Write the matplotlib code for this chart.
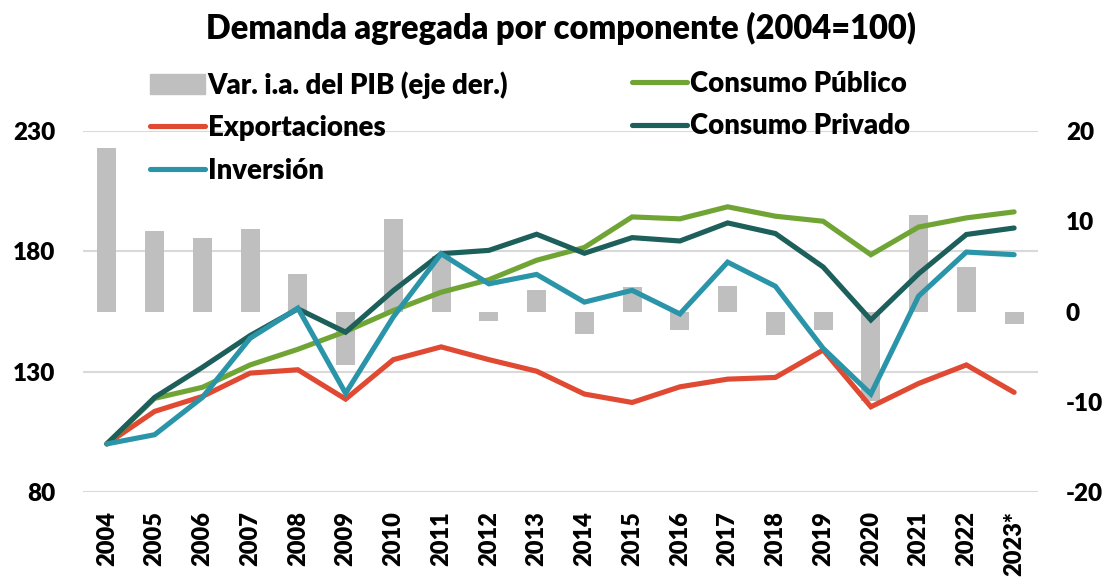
import matplotlib
matplotlib.use('Agg')
from matplotlib import pyplot as plt
from matplotlib.patches import Patch
from matplotlib.lines import Line2D

plt.rcParams['font.family'] = ['Lato', 'DejaVu Sans']
plt.rcParams['font.weight'] = 'heavy'
plt.rcParams['axes.unicode_minus'] = False

years = ['2004', '2005', '2006', '2007', '2008', '2009', '2010', '2011', '2012', '2013',
         '2014', '2015', '2016', '2017', '2018', '2019', '2020', '2021', '2022', '2023*']
pib_var = [18.1, 8.9, 8.1, 9.1, 4.1, -5.9, 10.2, 6.1, -1.0, 2.4,
           -2.5, 2.7, -2.1, 2.8, -2.6, -2.0, -9.9, 10.7, 4.9, -1.4]
exportaciones = [100, 113.5, 119.7, 129.4, 130.8, 118.6, 135.0, 140.3, 135.0, 130.2,
                 120.7, 117.2, 123.7, 126.9, 127.6, 139.0, 115.4, 125.1, 132.8, 121.4]
consumo_publico = [100, 118.9, 123.5, 132.8, 139.3, 146.7, 155.4, 163.0, 168.2, 176.3,
                   181.6, 194.3, 193.5, 198.5, 194.6, 192.5, 178.6, 190.1, 193.9, 196.4]
consumo_privado = [100, 119.3, 131.8, 145.0, 156.1, 146.4, 163.7, 179.0, 180.4, 187.1,
                   179.2, 185.7, 184.3, 191.8, 187.4, 173.5, 151.5, 170.7, 187.0, 189.7]
inversion = [100, 103.8, 119.3, 143.9, 156.4, 121.0, 152.8, 179.0, 166.5, 170.4,
             158.9, 163.8, 154.0, 175.5, 165.5, 139.7, 120.7, 161.4, 179.7, 178.6]

c_bar = '#BFBFBF'
c_exp = '#E04A33'
c_pub = '#70A535'
c_priv = '#1D5F5A'
c_inv = '#2A94A8'
W = 'heavy'

fig = plt.figure(figsize=(11.04, 5.84), dpi=100)
ax = fig.add_axes([83/1104, 1-492/584, (1038-83)/1104, (492-131)/584])
x = list(range(len(years)))

# eje izquierdo: grilla y etiquetas
ax.set_ylim(80, 230)
ax.set_yticks([80, 130, 180, 230])
ax.set_yticklabels(['80', '130', '180', '230'], fontsize=17.5, fontweight=W)
ax.set_xlim(-0.5, len(years)-0.5)
ax.set_xticks(x)
ax.set_xticklabels(years, rotation=90, fontsize=17, fontweight=W)
ax.grid(axis='y', color='#D9D9D9', lw=1.5)
ax.set_axisbelow(True)
ax.tick_params(axis='y', length=0, pad=20)
ax.tick_params(axis='x', length=0, pad=14)
for s in ax.spines.values():
    s.set_visible(False)

# barras (eje der.)
axb = ax.twinx()
axb.bar(x, pib_var, width=0.4, color=c_bar, zorder=1)
axb.set_ylim(-20, 20)
axb.set_yticks([-20, -10, 0, 10, 20])
axb.set_yticklabels(['-20', '-10', '0', '10', '20'], fontsize=17.5, fontweight=W)
axb.tick_params(axis='y', length=0, pad=20)
for s in axb.spines.values():
    s.set_visible(False)

# lineas
axl = ax.twinx()
axl.set_ylim(80, 230)
axl.set_yticks([])
for s in axl.spines.values():
    s.set_visible(False)
kw = dict(lw=3.7, solid_capstyle='round', solid_joinstyle='miter')
axl.plot(x, exportaciones, color=c_exp, **kw)
axl.plot(x, consumo_publico, color=c_pub, **kw)
axl.plot(x, consumo_privado, color=c_priv, **kw)
axl.plot(x, inversion, color=c_inv, **kw)

fig.suptitle('Demanda agregada por componente (2004=100)', fontsize=23.5, fontweight=W,
             x=561/1104, y=1-28/584, va='center')

h1 = [Patch(color=c_bar),
      Line2D([], [], color=c_exp, lw=3.7, solid_capstyle='round'),
      Line2D([], [], color=c_inv, lw=3.7, solid_capstyle='round')]
l1 = ['Var. i.a. del PIB (eje der.)', 'Exportaciones', 'Inversión']
h2 = [Line2D([], [], color=c_pub, lw=3.7, solid_capstyle='round'),
      Line2D([], [], color=c_priv, lw=3.7, solid_capstyle='round')]
l2 = ['Consumo Público', 'Consumo Privado']
legkw = dict(frameon=False, handlelength=2.0, handleheight=0.7, handletextpad=0.1,
             labelspacing=0.6, borderpad=0, borderaxespad=0, prop={'weight': W, 'size': 19.8})
fig.legend(h1, l1, loc='upper left', bbox_to_anchor=(150/1104, 1-71/584), **legkw)
fig.legend(h2, l2, loc='upper left', bbox_to_anchor=(632/1104, 1-71/584), **legkw)

fig.savefig('out.png', dpi=100)
